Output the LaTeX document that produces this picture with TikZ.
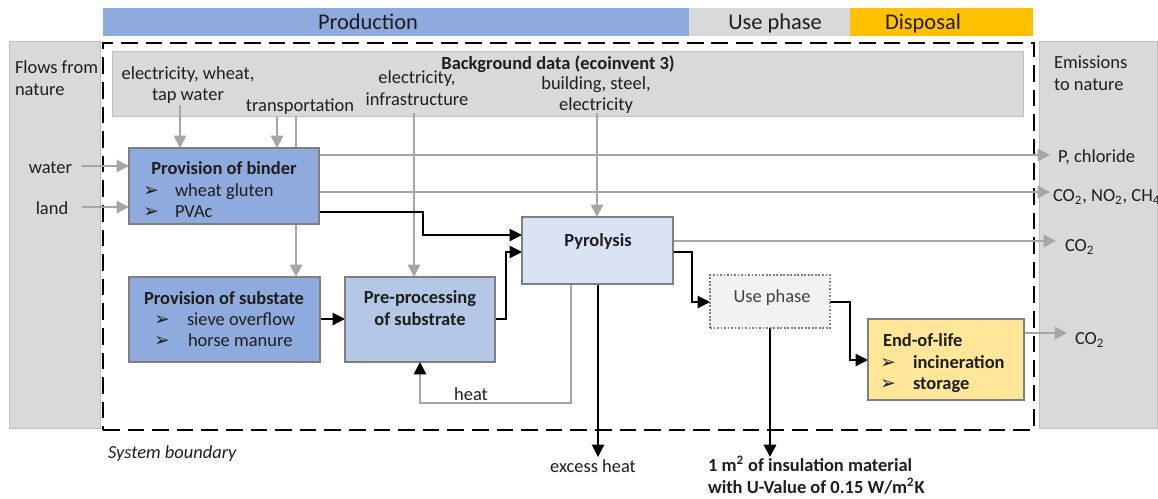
\documentclass[tikz,border=0pt]{standalone}
\usepackage{fontspec}
\setmainfont{Carlito}
\newfontfamily\symfont{DejaVu Sans}
\usetikzlibrary{arrows.meta}

\definecolor{prodblue}{HTML}{8FAADC}
\definecolor{preblue}{HTML}{B4C7E7}
\definecolor{pyroblue}{HTML}{DAE3F3}
\definecolor{phasegray}{HTML}{D9D9D9}
\definecolor{dispyellow}{HTML}{FFC000}
\definecolor{eolyellow}{HTML}{FFE699}
\definecolor{usefill}{HTML}{F2F2F2}
\definecolor{boxline}{HTML}{7F7F7F}
\definecolor{panelline}{HTML}{BFBFBF}
\definecolor{flowgray}{HTML}{A6A6A6}
\definecolor{ink}{HTML}{1E1E1E}
\definecolor{softink}{HTML}{404040}

\pgfdeclarelayer{panels}
\pgfdeclarelayer{flows}
\pgfsetlayers{panels,flows,main}

% arrow bullet used in the process boxes
\newcommand{\bul}{{\symfont\fontsize{10.5}{12}\selectfont ➢}}

\begin{document}
\begin{tikzpicture}[x=0.02cm,y=-0.02cm,
  font=\fontsize{10.5}{12.3}\selectfont,
  every node/.style={text=ink, inner sep=0pt, outer sep=0pt},
  bar/.style={anchor=north west, minimum height=0.56cm},
  bartext/.style={font=\fontsize{12.75}{14}\selectfont, text height=9.6pt, text depth=1.2pt},
  panel/.style={draw=panelline, fill=phasegray, line width=0.5pt, anchor=north west},
  proc/.style={draw=boxline, line width=1.1pt, anchor=north west},
  one/.style={text height=9.2pt, text depth=1pt},
  multi/.style={align=center},
  bold/.style={font=\fontsize{10.5}{12.3}\selectfont\bfseries},
  gflow/.style={draw=flowgray, line width=1.1pt, -{Triangle[length=7pt,width=7pt]}},
  bflow/.style={draw=black, line width=0.6pt, -{Triangle[length=7pt,width=7pt]}},
]
\useasboundingbox (0,0) rectangle (1158,498);

% ---- life-cycle phase bar ----
\node[bar, fill=prodblue, minimum width=11.72cm] (prodbar) at (103,8) {};
\node[bar, fill=phasegray, minimum width=3.22cm] (usebar) at (689,8) {};
\node[bar, fill=dispyellow, minimum width=3.66cm] (dispbar) at (850,8) {};
\node[bartext] (prodlbl) at (368,22) {Production};
\node[bartext] (uselbl) at (775,22) {Use phase};
\node[bartext] (displbl) at (923,22) {Disposal};

% ---- panels, system boundary and background data ----
\begin{pgfonlayer}{panels}
  \node[panel, minimum width=1.82cm, minimum height=7.76cm] (natin) at (9,41) {};
  \node[panel, minimum width=2.36cm, minimum height=7.76cm] (natout) at (1039,41) {};
  \node[draw=black, line width=1.4pt, dash pattern=on 9.5pt off 4.5pt,
        anchor=north west, minimum width=18.62cm, minimum height=7.74cm] (sysb) at (103,43) {};
  \node[panel, minimum width=18.24cm, minimum height=1.3cm] (bg) at (112,51) {};
\end{pgfonlayer}

\node[anchor=west, align=left] (flowsin) at (15,78) {Flows from\\nature};
\node[anchor=west, align=left] (emis) at (1054,73.5) {Emissions\\to nature};

\node[one, bold] (bgtitle) at (558,62) {Background data (ecoinvent 3)};
\node[multi] (in1) at (188,85) {electricity, wheat,\\tap water};
\node[one] (in2) at (300,104) {transportation};
\node[multi] (in3) at (417,88) {electricity,\\infrastructure};
\node[multi] (in4) at (596,95) {building, steel,\\electricity};

\node[one, anchor=east] (water) at (72,166) {water};
\node[one] (land) at (52,207) {land};

% ---- process boxes ----
\node[proc, fill=prodblue, minimum width=3.8cm, minimum height=1.52cm] (binder) at (129,148) {};
\node[proc, fill=prodblue, minimum width=3.82cm, minimum height=1.7cm] (substrate) at (129,277) {};
\node[proc, fill=preblue, minimum width=3.0cm, minimum height=1.7cm] (pre) at (345,277) {};
\node[proc, fill=pyroblue, minimum width=3.02cm, minimum height=1.34cm] (pyro) at (522,217) {};
\node[draw=boxline, line width=1pt, dash pattern=on 1pt off 1pt, fill=usefill,
      anchor=north west, minimum width=2.4cm, minimum height=1.06cm] (use) at (710,275) {};
\node[proc, fill=eolyellow, minimum width=3.12cm, minimum height=1.62cm] (eol) at (868,319) {};

% binder
\node[one, bold] (bindt) at (224,167) {Provision of binder};
\node[one] (bindb1) at (151,189) {\bul};
\node[one, anchor=west] (bind1) at (175,189) {wheat gluten};
\node[one] (bindb2) at (151,210) {\bul};
\node[one, anchor=west] (bind2) at (175,210) {PVAc};
% substrate
\node[one, bold] (subt) at (224,297) {Provision of substate};
\node[one] (subb1) at (162,318) {\bul};
\node[one, anchor=west] (sub1) at (187,318) {sieve overflow};
\node[one] (subb2) at (162,339) {\bul};
\node[one, anchor=west] (sub2) at (188,339) {horse manure};
% pre-processing
\node[multi, bold] (pret) at (420,308) {Pre-processing\\of substrate};
% pyrolysis
\node[one, bold] (pyrot) at (598,239) {Pyrolysis};
% use phase
\node[one, text=softink] (uset) at (772,295) {Use phase};
% end of life
\node[one, bold, anchor=west] (eolt) at (883,339) {End-of-life};
\node[one] (eolb1) at (888,361) {\bul};
\node[one, bold, anchor=west] (eol1) at (913,361) {incineration};
\node[one] (eolb2) at (888,382) {\bul};
\node[one, bold, anchor=west] (eol2) at (913,382) {storage};

% ---- outputs and labels ----
\node[one, anchor=west] (pcl) at (1058,155) {P, chloride};
\node[one, anchor=west] (ghg) at (1053,194) {CO\textsubscript{2}, NO\textsubscript{2}, CH\textsubscript{4}};
\node[one, anchor=west] (co2a) at (1065,244) {CO\textsubscript{2}};
\node[one, anchor=west] (co2b) at (1075,337) {CO\textsubscript{2}};
\node[one] (heat) at (471,393) {heat};
\node[one] (exheat) at (593,465) {excess heat};
\node[anchor=west, align=left, bold] (fu) at (708,475)
  {1 m\textsuperscript{2} of insulation material\\with U-Value of 0.15 W/m\textsuperscript{2}K};
\node[one, anchor=west, font=\fontsize{10.5}{12.3}\selectfont\itshape] (sblabel) at (108,451) {System boundary};

% ---- flows ----
\begin{pgfonlayer}{flows}
  % inputs from nature
  \draw[gflow, shorten <=0.2cm] (water.east) -- (water.east -| binder.west);
  \draw[gflow, shorten <=0.28cm] (land.east) -- (land.east -| binder.west);
  % inputs from background data
  \coordinate (i1) at (180,105);
  \coordinate (i2) at (277,117);
  \coordinate (i3) at (296,116);
  \coordinate (i4) at (414,113);
  \coordinate (i5) at (597,113);
  \draw[gflow] (i1) -- (i1 |- binder.north);
  \draw[gflow] (i2) -- (i2 |- binder.north);
  \draw[gflow] (i3) -- (i3 |- substrate.north);
  \draw[gflow] (i4) -- (i4 |- pre.north);
  \draw[gflow] (i5) -- (i5 |- pyro.north);
  % emissions
  \coordinate (e1) at (1050,155);
  \coordinate (e2) at (1050,192);
  \coordinate (e3) at (1056,241);
  \coordinate (e4) at (1067,333);
  \draw[gflow] (e1 -| binder.east) -- (e1);
  \draw[gflow] (e2 -| binder.east) -- (e2);
  \draw[gflow] (e3 -| pyro.east) -- (e3);
  \draw[gflow] (e4 -| eol.east) -- (e4);
  % main chain
  \coordinate (bp) at (423,212);
  \coordinate (pin1) at (0,235);
  \draw[bflow] (bp -| binder.east) -- (bp) |- (pyro.west |- pin1);
  \coordinate (pp) at (506,319);
  \coordinate (pin2) at (0,252);
  \draw[bflow] (pp -| pre.east) -- (pp) |- (pyro.west |- pin2);
  \draw[bflow] (pp -| substrate.east) -- (pp -| pre.west);
  \coordinate (pu) at (692,252);
  \coordinate (uin) at (0,302);
  \draw[bflow] (pu -| pyro.east) -- (pu) |- (use.west |- uin);
  \coordinate (ue) at (850,302);
  \coordinate (ein) at (0,360);
  \draw[bflow] (ue -| use.east) -- (ue) |- (eol.west |- ein);
  % heat recovery
  \coordinate (h1) at (571,403);
  \coordinate (h2) at (420,403);
  \draw[draw=flowgray, line width=1.1pt, -{Triangle[length=7pt,width=7pt,color=black]}]
    (h1 |- pyro.south) -- (h1) -- (h2) -- (h2 |- pre.south);
  % excess heat and functional unit
  \coordinate (xh) at (598,457);
  \draw[bflow] (xh |- pyro.south) -- (xh);
  \coordinate (fx) at (770,457);
  \draw[bflow, line width=1.3pt] (fx |- use.south) -- (fx);
\end{pgfonlayer}
\end{tikzpicture}
\end{document}
